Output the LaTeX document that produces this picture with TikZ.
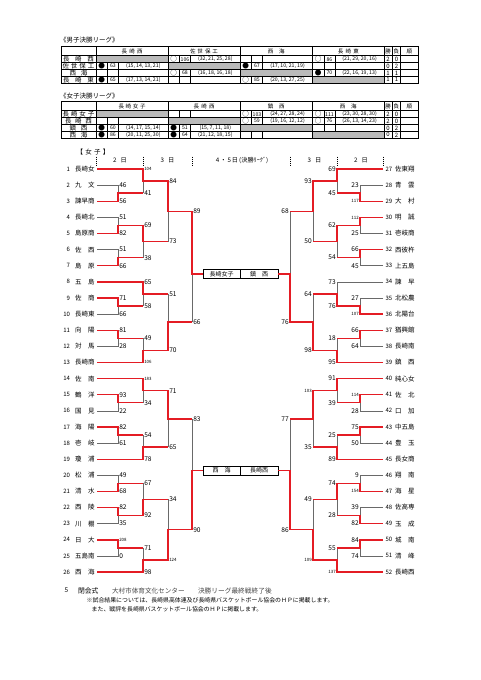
\documentclass[tikz,border=0pt]{standalone}
\usepackage{fontspec}
\setmainfont{Noto Sans CJK JP}
\definecolor{bred}{RGB}{228,28,36}
\definecolor{lgrey}{RGB}{105,105,105}
\definecolor{cgray}{RGB}{186,186,186}
\definecolor{ftgray}{RGB}{70,70,70}
\newcommand\fs[1]{\fontsize{#1}{#1}\selectfont}
\newcommand\spx[2]{\makebox[#1][s]{#2}}
\tikzset{
  every node/.style={inner sep=0pt,outer sep=0pt},
  W/.style={draw=bred,line width=1.4pt,line join=miter},
  Lo/.style={draw=lgrey,line width=0.55pt},
  scL/.style={anchor=west,font=\fs{6.6},xshift=1.3pt},
  scR/.style={anchor=east,font=\fs{6.6},xshift=-1.3pt},
  ssL/.style={anchor=west,font=\fs{4.4},xshift=1.3pt},
  ssR/.style={anchor=east,font=\fs{4.4},xshift=-1.3pt},
  tnum/.style={font=\fs{6}},
  tname/.style={anchor=west,font=\fs{6.5}},
  tgrid/.style={draw=black,line width=0.4pt},
  tout/.style={draw=black,line width=0.9pt},
  tcell/.style={font=\fs{5.2}},
  tsym/.style={font=\fs{6.6}},
  twl/.style={font=\fs{6}},
  thd/.style={font=\fs{5.5}},
  trow/.style={font=\fs{6.5}},
  mbox/.style={draw=black,line width=0.9pt,minimum height=9pt,font=\fs{6}},
  sep/.style={draw=black,line width=0.4pt,dash pattern=on 1.2pt off 0.8pt},
  hd/.style={font=\fs{6.2}},
}
\newcommand\tgrid{%
  \fill[cgray] (96,9) rectangle (168,15.9);
  \fill[cgray] (168,15.9) rectangle (240,22.8);
  \fill[cgray] (240,22.8) rectangle (312.5,29.7);
  \fill[cgray] (312.5,29.7) rectangle (384,36.6);
  \draw[tgrid] (61,15.9)--(418,15.9) (61,22.8)--(418,22.8) (61,29.7)--(418,29.7);
  \foreach \xx in {96,168,240,312.5,384,392.3,400.6}{\draw[tgrid] (\xx,0)--(\xx,36.6);}
  \foreach \ri/\ya/\yb in {1/9/15.9,2/15.9/22.8,3/22.8/29.7,4/29.7/36.6}{%
    \foreach \ci/\xa in {1/96,2/168,3/240,4/312.5}{%
      \ifnum\ri=\ci\relax\else
        \draw[tgrid] ({\xa+11.3},\ya)--({\xa+11.3},\yb) ({\xa+22.6},\ya)--({\xa+22.6},\yb);
      \fi
    }
  }
  \draw[tout] (61,9)--(418,9);
  \draw[tout] (61,0) rectangle (418,36.6);
}
% name, y, xa, xb, sym, score, detail
\newcommand\tres[7]{%
  \node[tsym] (#1a) at ({#3+5.65},#2) {#5};
  \node[tcell] (#1b) at ({#3+16.95},#2) {#6};
  \node[tcell] (#1c) at ({(#3+22.6+#4)/2},#2) {#7};
}
\begin{document}
\begin{tikzpicture}[x=1pt,y=-1pt]
\fill[white] (0,0) rectangle (481,680);
\useasboundingbox (0,0) rectangle (481,680);

% ---------- male table ----------
\node[anchor=west,font=\fs{6.5}] (mtitle) at (60,40.5) {《男子決勝リーグ》};
\begin{scope}[shift={(0,46.7)}]
\tgrid
\node[thd] (mh1) at (132,4.5) {\spx{21pt}{長\hfill 崎\hfill 西}};
\node[thd] (mh2) at (204,4.5) {\spx{28pt}{佐\hfill 世\hfill 保\hfill 工}};
\node[thd] (mh3) at (276.25,4.5) {\spx{17pt}{西\hfill 海}};
\node[thd] (mh4) at (348.25,4.5) {\spx{21pt}{長\hfill 崎\hfill 東}};
\node[thd] (mh5) at (388.15,4.5) {勝};
\node[thd] (mh6) at (396.45,4.5) {負};
\node[thd] (mh7) at (409.3,4.5) {順};
\node[trow] (mr1) at (78.5,12.45) {\spx{31pt}{長\hfill 崎\hfill 西}};
\node[trow] (mr2) at (78.5,19.35) {\spx{32pt}{佐\hfill 世\hfill 保\hfill 工}};
\node[trow] (mr3) at (78.5,26.25) {\spx{18pt}{西\hfill 海}};
\node[trow] (mr4) at (78.5,33.15) {\spx{31pt}{長\hfill 崎\hfill 東}};
\tres{m12}{12.45}{168}{240}{○}{106}{(32, 21, 25, 28)}
\tres{m14}{12.45}{312.5}{384}{○}{86}{(21, 29, 20, 16)}
\tres{m21}{19.35}{96}{168}{●}{63}{(15, 14, 13, 21)}
\tres{m23}{19.35}{240}{312.5}{●}{67}{(17, 10, 21, 19)}
\tres{m32}{26.25}{168}{240}{○}{68}{(16, 18, 16, 18)}
\tres{m34}{26.25}{312.5}{384}{●}{70}{(22, 16, 19, 13)}
\tres{m41}{33.15}{96}{168}{●}{65}{(17, 13, 14, 21)}
\tres{m43}{33.15}{240}{312.5}{○}{85}{(20, 13, 27, 25)}
\foreach \yy/\w/\l [count=\i] in {12.45/2/0,19.35/0/2,26.25/1/1,33.15/1/1}{
  \node[twl] (mw\i) at (388.15,\yy) {\w};
  \node[twl] (ml\i) at (396.45,\yy) {\l};
}
\end{scope}

% ---------- female table ----------
\node[anchor=west,font=\fs{6.5}] (ftitle) at (60,95.7) {《女子決勝リーグ》};
\begin{scope}[shift={(0,101.7)}]
\tgrid
\node[thd] (fh1) at (132,4.5) {\spx{27pt}{長\hfill 崎\hfill 女\hfill 子}};
\node[thd] (fh2) at (204,4.5) {\spx{21pt}{長\hfill 崎\hfill 西}};
\node[thd] (fh3) at (276.25,4.5) {\spx{17pt}{鎮\hfill 西}};
\node[thd] (fh4) at (348.25,4.5) {\spx{17pt}{西\hfill 海}};
\node[thd] (fh5) at (388.15,4.5) {勝};
\node[thd] (fh6) at (396.45,4.5) {負};
\node[thd] (fh7) at (409.3,4.5) {順};
\node[trow] (fr1) at (78.5,12.45) {\spx{32pt}{長\hfill 崎\hfill 女\hfill 子}};
\node[trow] (fr2) at (78.5,19.35) {\spx{27pt}{長\hfill 崎\hfill 西}};
\node[trow] (fr3) at (78.5,26.25) {\spx{18pt}{鎮\hfill 西}};
\node[trow] (fr4) at (78.5,33.15) {\spx{18pt}{西\hfill 海}};
\tres{f13}{12.45}{240}{312.5}{○}{103}{(24, 27, 28, 24)}
\tres{f14}{12.45}{312.5}{384}{○}{111}{(23, 30, 28, 30)}
\tres{f23}{19.35}{240}{312.5}{○}{59}{(19, 16, 12, 12)}
\tres{f24}{19.35}{312.5}{384}{○}{76}{(26, 13, 14, 23)}
\tres{f31}{26.25}{96}{168}{●}{60}{(14, 17, 15, 14)}
\tres{f32}{26.25}{168}{240}{●}{51}{(15, 7, 11, 18)}
\tres{f41}{33.15}{96}{168}{●}{86}{(20, 11, 25, 30)}
\tres{f42}{33.15}{168}{240}{●}{64}{(21, 12, 18, 15)}
\foreach \yy/\w/\l [count=\i] in {12.45/2/0,19.35/2/0,26.25/0/2,33.15/0/2}{
  \node[twl] (fw\i) at (388.15,\yy) {\w};
  \node[twl] (fl\i) at (396.45,\yy) {\l};
}
\end{scope}

% ---------- bracket headers ----------
\node[anchor=west,font=\fs{6.5}] (jtitle) at (76.5,151.7) {\spx{33pt}{【\hfill 女\hfill 子\hfill 】}};
\foreach \xx [count=\i] in {95.7,142.7,191.7,290,336.7,383.3}{
  \draw[sep] (\xx,156.5)--(\xx,165.5);
}
\node[hd] (d2l) at (120,160.8) {2\hspace{4pt}日};
\node[hd] (d3l) at (167.5,160.8) {3\hspace{4pt}日};
\node[hd] (d45) at (242,160.8) {4\,・\,5\,日\,(決勝ﾘｰｸﾞ)};
\node[hd] (d3r) at (314.5,160.8) {3\hspace{4pt}日};
\node[hd] (d2r) at (361,160.8) {2\hspace{4pt}日};

% ---------- teams ----------
\foreach \t [count=\i] in {長崎女,九　文,諫早商,長崎北,島原商,佐　西,島　原,五　島,佐　商,長崎東,向　陽,対　馬,長崎商,佐　南,鶴　洋,国　見,海　陽,壱　岐,瓊　浦,松　浦,清　水,西　陵,川　棚,日　大,五島南,西　海}{
  \pgfmathsetmacro\yy{169+(\i-1)*16.12}
  \node[tnum,anchor=east] (nl\i) at (70,\yy) {\i};
  \node[tname] (tl\i) at (75,\yy) {\t};
}
\foreach \t [count=\i] in {佐東翔,青　雲,大　村,明　誠,壱岐商,西彼杵,上五島,諫　早,北松農,北陽台,猶興館,長崎南,鎮　西,純心女,佐　北,口　加,中五島,豊　玉,長女商,翔　南,海　星,佐高専,玉　成,城　南,清　峰,長崎西}{
  \pgfmathsetmacro\yy{169+(\i-1)*16.12}
  \pgfmathtruncatemacro\k{\i+26}
  \node[tnum,anchor=west] (nr\i) at (385.5,\yy) {\k};
  \node[tname] (tr\i) at (395,\yy) {\t};
}

% ---------- boxes ----------
\node[mbox,minimum width=37pt] (bx1) at (221.5,274) {長崎女子};
\node[mbox,minimum width=38pt] (bx2) at (259,274) {鎮\hspace{6pt}西};
\node[mbox,minimum width=37pt] (bx3) at (221.5,470.5) {西\hspace{6pt}海};
\node[mbox,minimum width=38pt] (bx4) at (259,470.5) {長崎西};

% ---------- left grey ----------
\draw[Lo] (97,185.1)--(118,185.1)--(118,193.15);
\draw[Lo] (143,193.15)--(143,181.1);
\draw[Lo] (97,217.4)--(118,217.4)--(118,225.45);
\draw[Lo] (97,249.6)--(118,249.6)--(118,257.65);
\draw[Lo] (143,257.65)--(143,241.55);
\draw[Lo] (168,241.55)--(168,211.3);
\draw[Lo] (97,314.1)--(118,314.1)--(118,306.05);
\draw[Lo] (143,306.05)--(143,293.9);
\draw[Lo] (97,346.3)--(118,346.3)--(118,338.25);
\draw[Lo] (143,338.25)--(143,350.3);
\draw[Lo] (168,293.9)--(168,322.1);
\draw[Lo] (192,322.1)--(192,274);
\draw[Lo] (97,410.8)--(118,410.8)--(118,402.75);
\draw[Lo] (143,402.75)--(143,390.7);
\draw[Lo] (97,443.0)--(118,443.0)--(118,434.95);
\draw[Lo] (143,434.95)--(143,447.1);
\draw[Lo] (168,447.1)--(168,418.9);
\draw[Lo] (97,475.3)--(118,475.3)--(118,483.35);
\draw[Lo] (97,523.6)--(118,523.6)--(118,515.55);
\draw[Lo] (143,483.35)--(143,499.45);
\draw[Lo] (97,555.9)--(118,555.9)--(118,547.85);
\draw[Lo] (143,547.85)--(143,559.95);
\draw[Lo] (168,499.45)--(168,529.7);
\draw[Lo] (192,418.9)--(192,470.5);

% ---------- right grey ----------
\draw[Lo] (383,185.1)--(360,185.1)--(360,193.15);
\draw[Lo] (337,193.15)--(337,181.1);
\draw[Lo] (383,233.5)--(360,233.5)--(360,225.45);
\draw[Lo] (383,265.7)--(360,265.7)--(360,257.65);
\draw[Lo] (337,257.65)--(337,241.55);
\draw[Lo] (313,241.55)--(313,211.3);
\draw[Lo] (290,211.3)--(290,274);
\draw[Lo] (383,281.8)--(337,281.8)--(337,293.9);
\draw[Lo] (383,298.0)--(360,298.0)--(360,306.05);
\draw[Lo] (383,346.3)--(360,346.3)--(360,338.25);
\draw[Lo] (337,338.25)--(337,350.3);
\draw[Lo] (313,293.9)--(313,322.1);
\draw[Lo] (383,410.8)--(360,410.8)--(360,402.75);
\draw[Lo] (337,402.75)--(337,390.7);
\draw[Lo] (383,443.0)--(360,443.0)--(360,434.95);
\draw[Lo] (337,434.95)--(337,447.1);
\draw[Lo] (313,447.1)--(313,418.9);
\draw[Lo] (290,418.9)--(290,470.5);
\draw[Lo] (383,475.3)--(360,475.3)--(360,483.35);
\draw[Lo] (383,507.5)--(360,507.5)--(360,515.55);
\draw[Lo] (337,515.55)--(337,499.45);
\draw[Lo] (383,555.9)--(360,555.9)--(360,547.85);
\draw[Lo] (337,547.85)--(337,559.95);
\draw[Lo] (313,499.45)--(313,529.7);

% ---------- left red ----------
\draw[W] (97,169)--(143,169)--(143,181.1)--(168,181.1)--(168,211.3)--(192,211.3)--(192,274)--(bx1.west);
\draw[W] (97,201.2)--(118,201.2)--(118,193.15)--(143,193.15);
\draw[W] (97,233.5)--(118,233.5)--(118,225.45)--(143,225.45)--(143,241.55)--(168,241.55);
\draw[W] (97,265.7)--(118,265.7)--(118,257.65)--(143,257.65);
\draw[W] (97,281.8)--(143,281.8)--(143,293.9)--(168,293.9);
\draw[W] (97,298.0)--(118,298.0)--(118,306.05)--(143,306.05);
\draw[W] (97,330.2)--(118,330.2)--(118,338.25)--(143,338.25);
\draw[W] (97,362.4)--(143,362.4)--(143,350.3)--(168,350.3)--(168,322.1)--(192,322.1);
\draw[W] (97,378.6)--(143,378.6)--(143,390.7)--(168,390.7)--(168,418.9)--(192,418.9);
\draw[W] (97,394.7)--(118,394.7)--(118,402.75)--(143,402.75);
\draw[W] (97,426.9)--(118,426.9)--(118,434.95)--(143,434.95);
\draw[W] (97,459.2)--(143,459.2)--(143,447.1)--(168,447.1);
\draw[W] (97,491.4)--(118,491.4)--(118,483.35)--(143,483.35);
\draw[W] (97,507.5)--(118,507.5)--(118,515.55)--(143,515.55)--(143,499.45)--(168,499.45);
\draw[W] (97,539.8)--(118,539.8)--(118,547.85)--(143,547.85);
\draw[W] (97,572)--(143,572)--(143,559.95)--(168,559.95)--(168,529.7)--(192,529.7)--(192,470.5)--(bx3.west);

% ---------- right red ----------
\draw[W] (383,169)--(337,169)--(337,181.1)--(313,181.1)--(313,211.3)--(290,211.3);
\draw[W] (383,201.2)--(360,201.2)--(360,193.15)--(337,193.15);
\draw[W] (383,217.4)--(360,217.4)--(360,225.45)--(337,225.45)--(337,241.55)--(313,241.55);
\draw[W] (383,249.6)--(360,249.6)--(360,257.65)--(337,257.65);
\draw[W] (383,314.1)--(360,314.1)--(360,306.05)--(337,306.05)--(337,293.9)--(313,293.9);
\draw[W] (383,330.2)--(360,330.2)--(360,338.25)--(337,338.25);
\draw[W] (383,362.4)--(337,362.4)--(337,350.3)--(313,350.3)--(313,322.1)--(290,322.1)--(290,274)--(bx2.east);
\draw[W] (383,378.6)--(337,378.6)--(337,390.7)--(313,390.7)--(313,418.9)--(290,418.9);
\draw[W] (383,394.7)--(360,394.7)--(360,402.75)--(337,402.75);
\draw[W] (383,426.9)--(360,426.9)--(360,434.95)--(337,434.95);
\draw[W] (383,459.2)--(337,459.2)--(337,447.1)--(313,447.1);
\draw[W] (383,491.4)--(360,491.4)--(360,483.35)--(337,483.35)--(337,499.45)--(313,499.45);
\draw[W] (383,523.6)--(360,523.6)--(360,515.55)--(337,515.55);
\draw[W] (383,539.8)--(360,539.8)--(360,547.85)--(337,547.85);
\draw[W] (383,572)--(337,572)--(337,559.95)--(313,559.95)--(313,529.7)--(290,529.7)--(290,470.5)--(bx4.east);

% ---------- scores ----------
\foreach \xx/\yy/\t [count=\c] in {118/185.1/46,118/201.2/56,118/217.4/51,118/233.5/82,118/249.6/51,118/265.7/66,118/298.0/71,118/314.1/66,118/330.2/81,118/346.3/28,118/394.7/93,118/410.8/22,118/426.9/82,118/443.0/61,118/475.3/49,118/491.4/68,118/507.5/82,118/523.6/35,118/555.9/0,
143/193.15/41,143/225.45/69,143/257.65/38,143/281.8/65,143/306.05/58,143/338.25/49,143/402.75/34,143/434.95/54,143/459.2/78,143/483.35/67,143/515.55/92,143/547.85/71,143/572/98,
168/181.1/84,168/241.55/73,168/293.9/51,168/350.3/70,168/390.7/71,168/447.1/65,168/499.45/34,
192/211.3/89,192/322.1/66,192/418.9/83,192/529.7/90}{
  \node[scL] (sl\c) at (\xx,\yy) {\t};
}
\foreach \xx/\yy/\t [count=\c] in {118/539.8/208,143/169/104,143/362.4/106,143/378.6/183,168/559.95/124}{
  \node[ssL] (ssl\c) at (\xx,\yy) {\t};
}
\foreach \xx/\yy/\t [count=\c] in {360/185.1/23,360/233.5/25,360/249.6/66,360/265.7/45,360/298.0/27,360/330.2/66,360/346.3/64,360/410.8/28,360/426.9/75,360/443.0/50,360/475.3/9,360/507.5/39,360/523.6/82,360/539.8/84,360/555.9/74,
337/169/69,337/193.15/45,337/225.45/62,337/257.65/54,337/281.8/73,337/306.05/76,337/338.25/18,337/362.4/95,337/378.6/91,337/402.75/39,337/434.95/25,337/459.2/89,337/483.35/74,337/515.55/28,337/547.85/55,
313/181.1/93,313/241.55/50,313/293.9/64,313/350.3/98,313/447.1/35,313/499.45/49,
290/211.3/68,290/322.1/76,290/418.9/77,290/529.7/86}{
  \node[scR] (sr\c) at (\xx,\yy) {\t};
}
\foreach \xx/\yy/\t [count=\c] in {360/201.2/117,360/217.4/112,360/314.1/107,360/394.7/114,360/491.4/154,337/572/137,313/390.7/103,313/559.95/109}{
  \node[ssR] (ssr\c) at (\xx,\yy) {\t};
}

% ---------- footer ----------
\node[anchor=west,font=\fs{6.5}] (f5) at (64.5,590.7) {5};
\node[anchor=west,font=\fs{6.8}] (f6) at (78,590.7) {閉会式};
\node[anchor=west,font=\fs{6.6},text=ftgray] (f7) at (112,590.7) {大村市体育文化センター};
\node[anchor=west,font=\fs{6.7},text=ftgray] (f8) at (198,590.7) {決勝リーグ最終戦終了後};
\node[anchor=west,font=\fs{5.9}] (f9) at (86.7,600) {※試合結果については、長崎県高体連及び長崎県バスケットボール協会のＨＰに掲載します。};
\node[anchor=west,font=\fs{5.9}] (f10) at (91.7,609) {また、戦評を長崎県バスケットボール協会のＨＰに掲載します。};
\end{tikzpicture}
\end{document}
